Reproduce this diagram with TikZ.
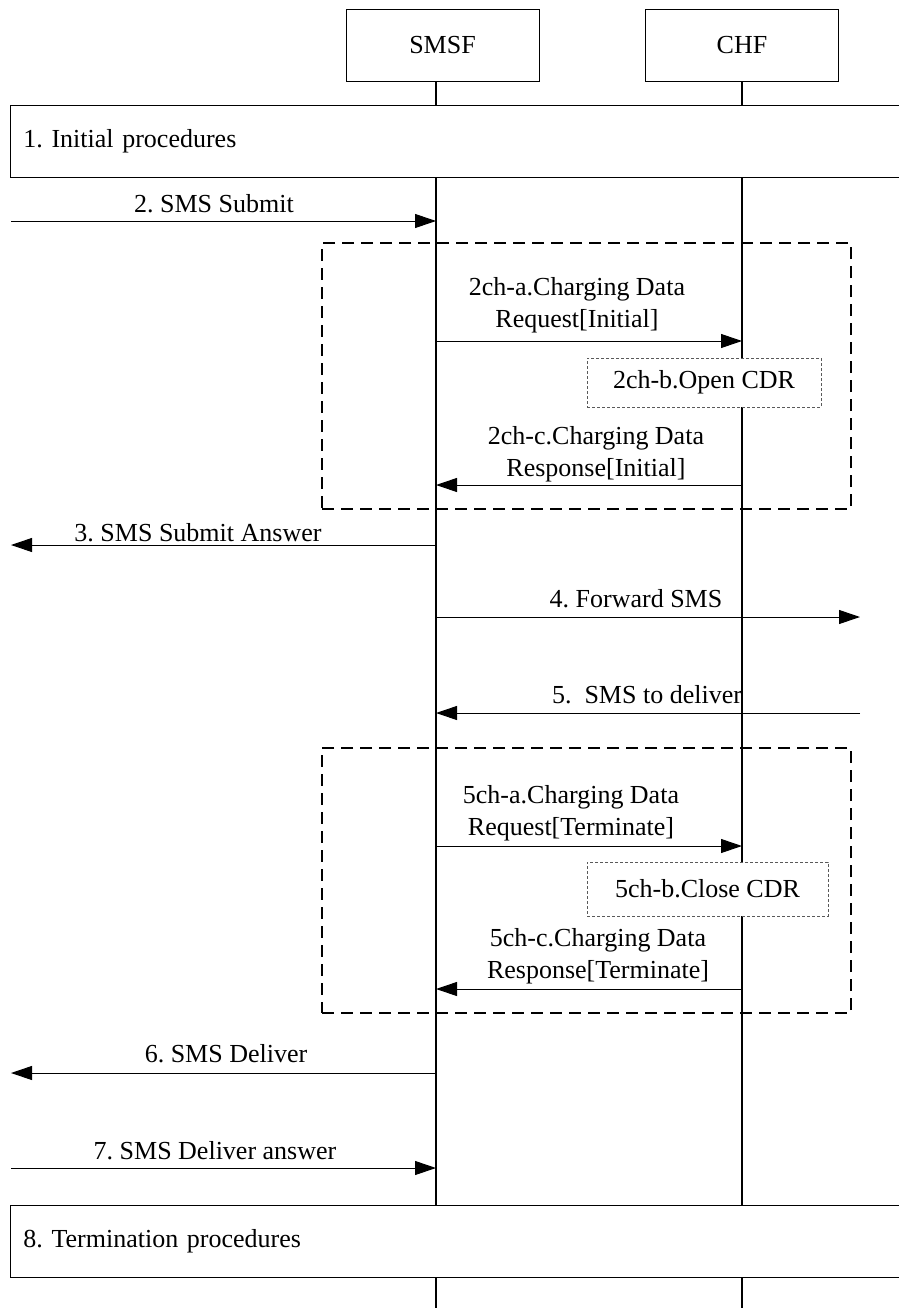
\documentclass[tikz,border=0pt]{standalone}
\usepackage{fontspec}
\setmainfont{Liberation Serif}
\usepackage{tikz}
\usetikzlibrary{arrows.meta}
\usetikzlibrary{positioning}
\frenchspacing

\begin{document}
\begin{tikzpicture}[
    x=1pt, y=-1pt,
    every node/.style={font=\fontsize{26}{32}\selectfont, inner sep=0pt},
    entity/.style={draw=black, line width=0.8pt, fill=white, minimum width=193pt, minimum height=72pt},
    procbox/.style={draw=black, line width=0.8pt, fill=white, anchor=west, minimum height=72pt, text width=866pt, inner xsep=13pt, align=left},
    life/.style={line width=1.4pt},
    msg/.style={line width=1pt, -{Triangle[length=21pt, width=14pt]}},
    chgbox/.style={draw=black, line width=1.5pt, dash pattern=on 12pt off 7pt, minimum width=529pt},
    cdrbox/.style={draw=black!65, line width=0.8pt, dash pattern=on 3pt off 2pt, fill=white},
    lbl/.style={anchor=base, align=center}
]
\useasboundingbox (0,0) rectangle (898,1308);
% Entities
\node[entity] (smsf) at (442.5,45) {SMSF};
\node[entity] (chf) at (742,45.5) {CHF};
% Lifelines
\coordinate (smsfEnd) at (436,1308);
\coordinate (chfEnd) at (742,1308);
\coordinate (west) at (11,0);
\coordinate (east) at (860,0);
\draw[life] (smsf.south -| smsfEnd) -- (smsfEnd);
\draw[life] (chf.south) -- (chfEnd);
% Procedures
\node[procbox] (init) at (10,141) {1. Initial procedures};
\node[procbox] (term) at (10,1241) {8. Termination procedures};
% Charging boxes
\node[chgbox, minimum height=266pt] (chgA) at (586.5,376) {};
\node[chgbox, minimum height=265pt] (chgB) at (586.5,880.5) {};
\node[cdrbox, minimum width=234pt, minimum height=49pt] (openCdr) at (704,382.5) {2ch-b.Open CDR};
\node[cdrbox, minimum width=241pt, minimum height=54pt] (closeCdr) at (707.5,889) {5ch-b.Close CDR};
% Messages
\draw[msg] (west |- 0,221) -- (smsfEnd |- 0,221);
\node[lbl] (m2) at (214,212) {2. SMS Submit};
\draw[msg] (smsfEnd |- 0,341) -- (chfEnd |- 0,341);
\node[lbl] (m2a) at (577,327) {2ch-a.Charging Data\\Request[Initial]};
\draw[msg] (chfEnd |- 0,485) -- (smsfEnd |- 0,485);
\node[lbl] (m2c) at (596,476) {2ch-c.Charging Data\\Response[Initial]};
\draw[msg] (smsfEnd |- 0,545) -- (west |- 0,545);
\node[lbl] (m3) at (198,541) {3. SMS Submit Answer};
\draw[msg] (smsfEnd |- 0,617) -- (east |- 0,617);
\node[lbl] (m4) at (636,607) {4. Forward SMS};
\draw[msg] (east |- 0,713) -- (smsfEnd |- 0,713);
\node[lbl] (m5) at (647,703) {5.~ SMS to deliver};
\draw[msg] (smsfEnd |- 0,846) -- (chfEnd |- 0,846);
\node[lbl] (m5a) at (571,835) {5ch-a.Charging Data\\Request[Terminate]};
\draw[msg] (chfEnd |- 0,989) -- (smsfEnd |- 0,989);
\node[lbl] (m5c) at (598,978) {5ch-c.Charging Data\\Response[Terminate]};
\draw[msg] (smsfEnd |- 0,1073) -- (west |- 0,1073);
\node[lbl] (m6) at (226,1062) {6. SMS Deliver};
\draw[msg] (west |- 0,1168) -- (smsfEnd |- 0,1168);
\node[lbl] (m7) at (215,1159) {7. SMS Deliver answer};

\end{tikzpicture}
\end{document}
